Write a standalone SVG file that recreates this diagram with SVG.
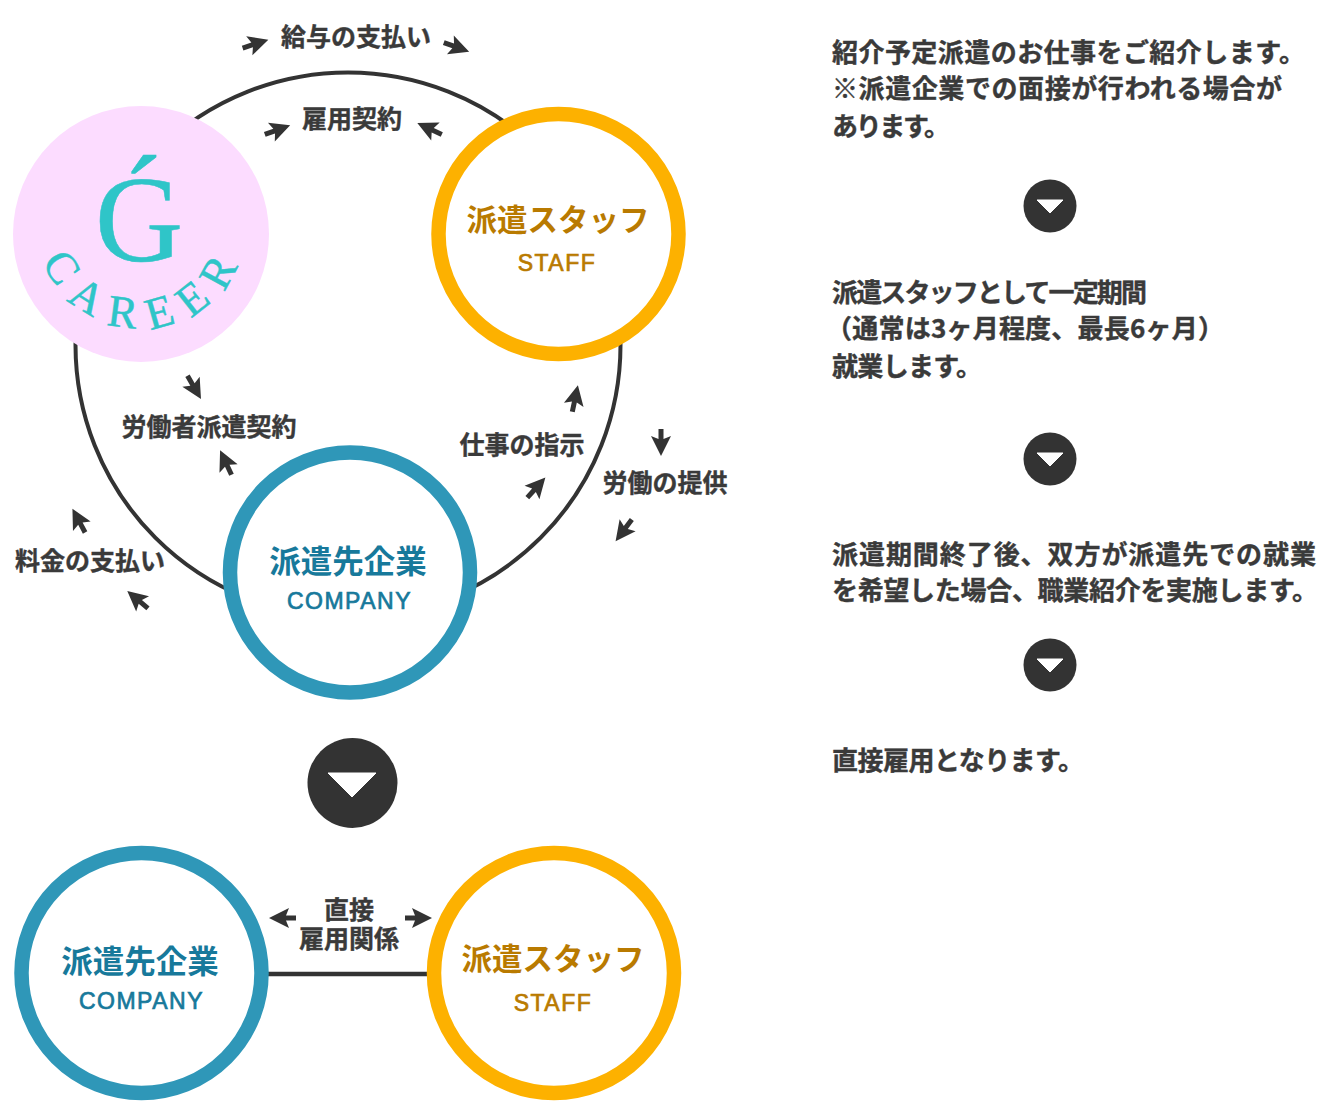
<svg xmlns="http://www.w3.org/2000/svg" width="1329" height="1117" viewBox="0 0 1329 1117">
<style>
text{font-family:"Noto Sans CJK JP","Noto Sans",sans-serif;font-weight:700}
.l{font-size:25px;fill:#3a3a3a;text-anchor:middle;stroke:#3a3a3a;stroke-width:.4px}
.b{font-size:26px;fill:#3a3a3a;stroke:#3a3a3a;stroke-width:.4px}
.ring{fill:#fff;stroke-width:14.500}
.s{stroke:#fdb100}.c{stroke:#2f97b8}
.st{fill:#b97a00;text-anchor:middle}
.ct{fill:#17799b;text-anchor:middle}
.big{font-size:30.500px}
.big2{font-size:31.500px}
.sm{font-family:"Liberation Sans",Arial,sans-serif;font-size:23px;font-weight:400;stroke-width:.7px}
.ar{fill:#333}
.d{fill:#333}
.t{fill:#fff;stroke:#fff;stroke-linejoin:round;stroke-width:1}
.logo{font-family:"Liberation Serif","Times New Roman",serif;font-weight:400;fill:#2fc5c8;stroke:#2fc5c8;stroke-width:.5px}
</style>
<defs>
<path id="a" d="M0,-14 L10,6 L2.500,3 L2.500,13 L-2.500,13 L-2.500,3 L-10,6 Z"/>
<path id="arc" d="M43 262 A106 106 0 0 0 242 256"/>
</defs>
<rect width="1329" height="1117" fill="#fff"/>
<g id="connectors" fill="none" stroke="#333" stroke-width="4">
<circle cx="348" cy="345" r="272.500"/>
<line x1="266" y1="974" x2="430" y2="974" stroke-width="4.500"/>
</g>
<g id="arrows" class="ar">
<use href="#a" transform="translate(255 44) rotate(72)"/>
<use href="#a" transform="translate(456 47) rotate(110)"/>
<use href="#a" transform="translate(277 130) rotate(70)"/>
<use href="#a" transform="translate(430 129) rotate(-65)"/>
<use href="#a" transform="translate(194 387) rotate(150)"/>
<use href="#a" transform="translate(226 463) rotate(-25)"/>
<use href="#a" transform="translate(79 521) rotate(-28)"/>
<use href="#a" transform="translate(138 600) rotate(-50)"/>
<use href="#a" transform="translate(575 399) rotate(12)"/>
<use href="#a" transform="translate(536 488) rotate(42)"/>
<use href="#a" transform="translate(661 442) rotate(180)"/>
<use href="#a" transform="translate(624 530) rotate(217)"/>
<use href="#a" transform="translate(283 918) rotate(-90)"/>
<use href="#a" transform="translate(418 918) rotate(90)"/>
</g>
<g id="labels">
<text class="l" x="356" y="46">給与の支払い</text>
<text class="l" x="352" y="128">雇用契約</text>
<text class="l" x="209" y="436">労働者派遣契約</text>
<text class="l" x="90" y="570">料金の支払い</text>
<text class="l" x="522" y="454">仕事の指示</text>
<text class="l" x="665" y="492">労働の提供</text>
<text class="l" x="349" y="919">直接</text>
<text class="l" x="349" y="948">雇用関係</text>
</g>
<g id="logo">
<circle cx="141" cy="234" r="128" fill="#fcdcff"/>
<text class="logo" x="139" y="261" font-size="122" text-anchor="middle">Ǵ</text>
<text class="logo" font-size="45" letter-spacing="14"><textPath href="#arc">CAREER</textPath></text>
</g>
<g id="staff-top">
<circle class="ring s" cx="558.500" cy="234" r="120"/>
<text class="st big" x="558" y="231">派遣スタッフ</text>
<text class="st sm" x="557" y="271" letter-spacing="1.500" stroke="#b97a00">STAFF</text>
</g>
<g id="company-top">
<circle class="ring c" cx="350" cy="572.500" r="120"/>
<text class="ct big2" x="348" y="573">派遣先企業</text>
<text class="ct sm" x="349.500" y="609" letter-spacing="1.500" stroke="#17799b">COMPANY</text>
</g>
<g id="down-main">
<circle class="d" cx="352.500" cy="783" r="45"/>
<path class="t" d="M328 773H376L352 797Z"/>
</g>
<g id="company-bottom">
<circle class="ring c" cx="141.500" cy="973" r="120"/>
<text class="ct big2" x="140" y="973">派遣先企業</text>
<text class="ct sm" x="141.500" y="1009" letter-spacing="1.500" stroke="#17799b">COMPANY</text>
</g>
<g id="staff-bottom">
<circle class="ring s" cx="554" cy="973" r="120"/>
<text class="st big" x="553" y="970">派遣スタッフ</text>
<text class="st sm" x="553" y="1011" letter-spacing="1.500" stroke="#b97a00">STAFF</text>
</g>
<g id="step-1">
<text class="b" x="832" y="62" textLength="473">紹介予定派遣のお仕事をご紹介します。</text>
<text class="b" x="832" y="98" textLength="450">※派遣企業での面接が行われる場合が</text>
<text class="b" x="832" y="136" textLength="118">あります。</text>
</g>
<g id="down-1"><circle class="d" cx="1050" cy="206" r="26.500"/><path class="t" d="M1037 200H1063L1050 213Z"/></g>
<g id="step-2">
<text class="b" x="832" y="302" textLength="315">派遣スタッフとして一定期間</text>
<text class="b" x="826" y="338" textLength="398">（通常は3ヶ月程度、最長6ヶ月）</text>
<text class="b" x="832" y="376" textLength="150">就業します。</text>
</g>
<g id="down-2"><circle class="d" cx="1050" cy="459" r="26.500"/><path class="t" d="M1037 453H1063L1050 466Z"/></g>
<g id="step-3">
<text class="b" x="832" y="564" textLength="484">派遣期間終了後、双方が派遣先での就業</text>
<text class="b" x="832" y="600" textLength="486">を希望した場合、職業紹介を実施します。</text>
</g>
<g id="down-3"><circle class="d" cx="1050" cy="665" r="26.500"/><path class="t" d="M1037 659H1063L1050 672Z"/></g>
<g id="step-4">
<text class="b" x="832" y="770" textLength="252">直接雇用となります。</text>
</g>
</svg>
